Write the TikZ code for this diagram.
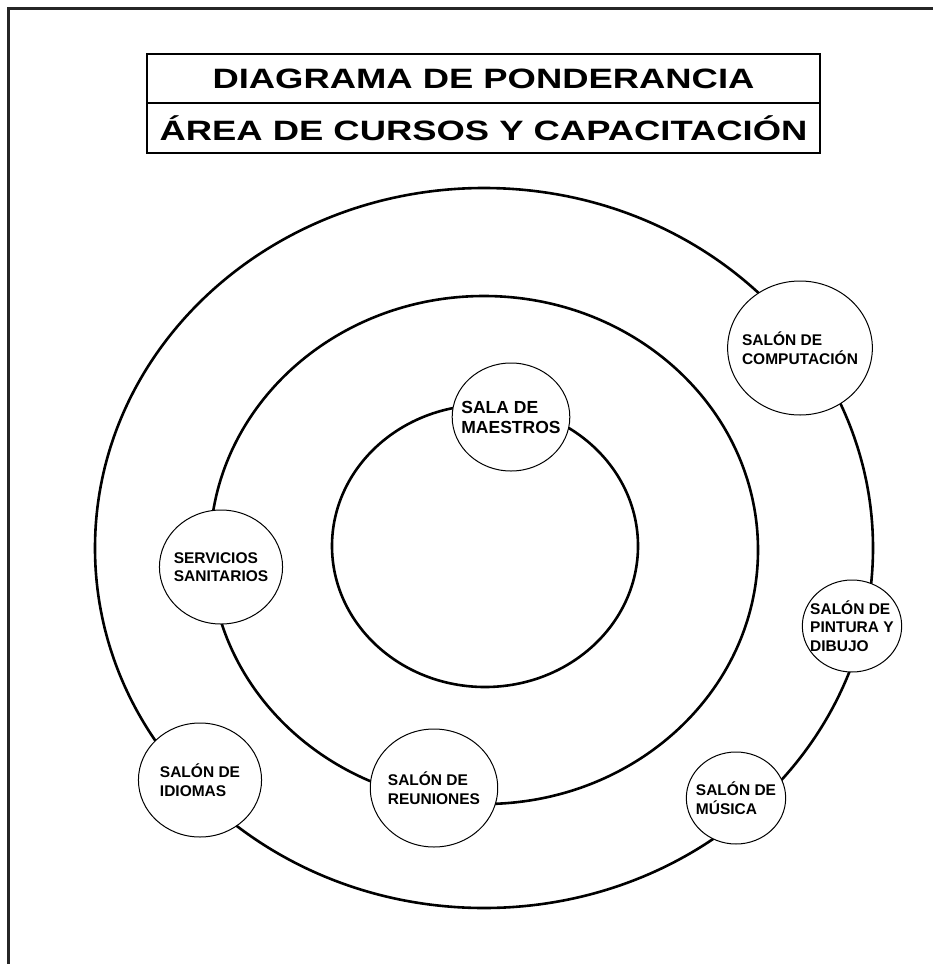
\documentclass[tikz,border=0pt]{standalone}
\usepackage{fontspec}
\setmainfont{Liberation Sans}
\newfontfamily\widefont[FakeStretch=1.3]{Liberation Sans}
\usepackage{tikz}
\usetikzlibrary{positioning,shapes.geometric}
\tikzset{
  frame/.style={line width=3pt, black!85},
  banner/.style={draw, line width=2.4pt, outer sep=0pt, inner sep=0pt, minimum width=673pt, minimum height=49.5pt, font=\widefont\bfseries\fontsize{28}{30}\selectfont},
  ring/.style={line width=2.6pt},
  room/.style={ellipse, draw, line width=1pt, fill=white, align=left, inner sep=-8pt, font=\bfseries\fontsize{15.5}{18.5}\selectfont},
}
\newcommand{\salon}[6][]{\node[room, minimum height=2*#5pt, minimum width=2.16*#5pt, #1] (#2) at (#3,-#4) {#6};}

\begin{document}
\begin{tikzpicture}[x=1pt,y=1pt]
  \useasboundingbox (0,0) rectangle (933,-964);
  % page edge
  \draw[frame] (8,-964) -- (8,-8) -- (933,-8);
  % title
  \node[banner] (titulo) at (483.5,-78.5) {DIAGRAMA DE PONDERANCIA};
  \node[banner, below=0pt of titulo] (area) {ÁREA DE CURSOS Y CAPACITACIÓN};
  % rings
  \draw[ring] (484,-548) ellipse [x radius=389, y radius=360];
  \draw[ring] (484,-550) ellipse [x radius=274, y radius=254];
  \draw[ring] (485,-546) ellipse [x radius=153, y radius=141];
  % rooms
  \salon[font=\bfseries\fontsize{17.5}{20}\selectfont]{maestros}{511}{417}{54}{SALA DE\\MAESTROS}
  \salon{computacion}{800}{348}{67}{SALÓN DE\\COMPUTACIÓN}
  \salon{servicios}{221}{567}{57}{SERVICIOS\\SANITARIOS}
  \salon{pintura}{852}{626}{46}{SALÓN DE\\PINTURA Y\\DIBUJO}
  \salon{idiomas}{200}{780}{57}{SALÓN DE\\IDIOMAS}
  \salon{reuniones}{434}{788}{59}{SALÓN DE\\REUNIONES}
  \salon{musica}{736}{798}{46}{SALÓN DE\\MÚSICA}
\end{tikzpicture}
\end{document}
